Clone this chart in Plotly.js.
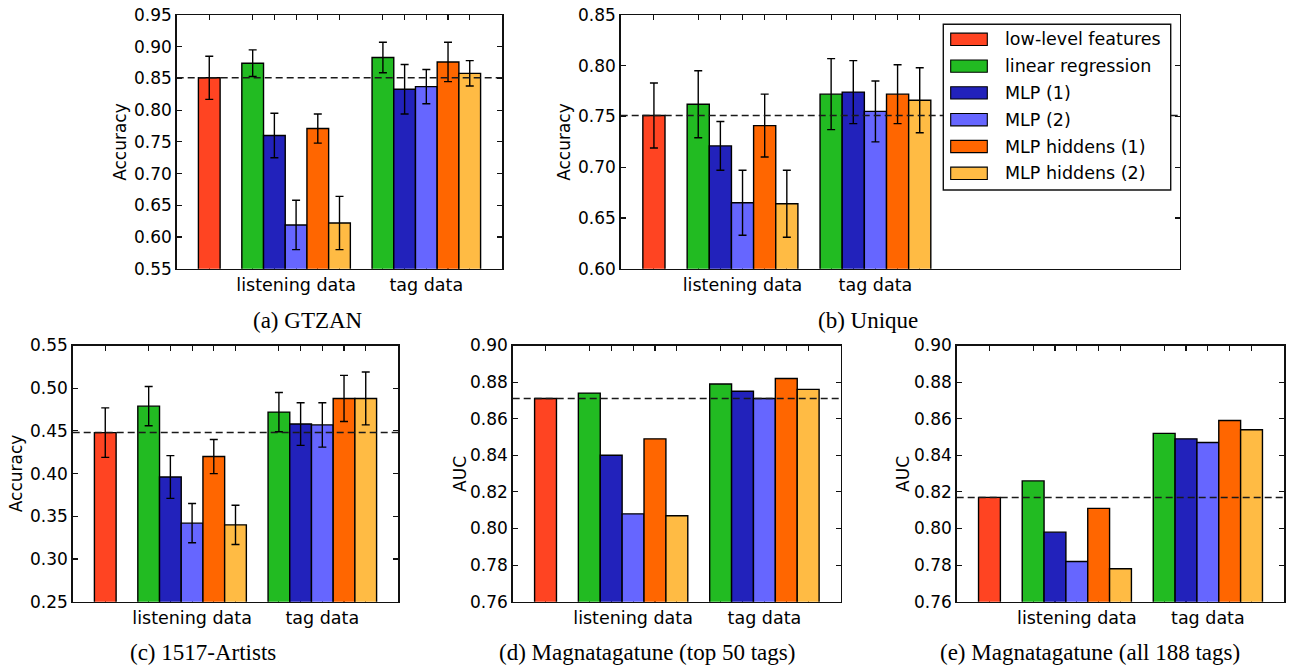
<!DOCTYPE html>
<html><head><meta charset="utf-8">
<script src="https://cdn.plot.ly/plotly-3.0.1.min.js"></script>
<style>html,body{margin:0;padding:0;background:#fff}#chart{width:1293px;height:668px}</style>
</head><body><div id="chart"></div>
<script>
// ---- data ----
const methods = ['low-level features','linear regression','MLP (1)','MLP (2)','MLP hiddens (1)','MLP hiddens (2)'];
const colors = ['#ff4422','#22bb22','#2222bb','#6666ff','#ff6600','#ffbb44'];
const groupLabels = ['listening data','tag data'];

// (a) GTZAN
const gtzanLow = 0.851, gtzanLowErr = 0.034;
const gtzanListen = [0.874, 0.760, 0.619, 0.771, 0.622];
const gtzanListenErr = [0.021, 0.035, 0.039, 0.023, 0.042];
const gtzanTag = [0.883, 0.833, 0.837, 0.876, 0.858];
const gtzanTagErr = [0.024, 0.039, 0.027, 0.031, 0.020];
const gtzanTicks = [0.55, 0.60, 0.65, 0.70, 0.75, 0.80, 0.85, 0.90, 0.95];

// (b) Unique
const uniqueLow = 0.751, uniqueLowErr = 0.032;
const uniqueListen = [0.762, 0.721, 0.665, 0.741, 0.664];
const uniqueListenErr = [0.033, 0.024, 0.032, 0.031, 0.033];
const uniqueTag = [0.772, 0.774, 0.755, 0.772, 0.766];
const uniqueTagErr = [0.035, 0.031, 0.030, 0.029, 0.032];
const uniqueTicks = [0.60, 0.65, 0.70, 0.75, 0.80, 0.85];

// (c) 1517-Artists
const artistsLow = 0.448, artistsLowErr = 0.029;
const artistsListen = [0.479, 0.396, 0.342, 0.420, 0.340];
const artistsListenErr = [0.023, 0.025, 0.023, 0.020, 0.023];
const artistsTag = [0.472, 0.458, 0.457, 0.488, 0.488];
const artistsTagErr = [0.023, 0.025, 0.026, 0.027, 0.031];
const artistsTicks = [0.25, 0.30, 0.35, 0.40, 0.45, 0.50, 0.55];

// (d) Magnatagatune (top 50 tags)
const mag50Low = 0.871;
const mag50Listen = [0.874, 0.840, 0.808, 0.849, 0.807];
const mag50Tag = [0.879, 0.875, 0.871, 0.882, 0.876];

// (e) Magnatagatune (all 188 tags)
const mag188Low = 0.817;
const mag188Listen = [0.826, 0.798, 0.782, 0.811, 0.778];
const mag188Tag = [0.852, 0.849, 0.847, 0.859, 0.854];
const aucTicks = [0.76, 0.78, 0.80, 0.82, 0.84, 0.86, 0.88, 0.90];

// ---- layout helpers ----
const W = 1293, H = 668;
const px = v => v / W, py = v => 1 - v / H;
const FONT = 'DejaVu Sans, sans-serif';
const SERIF = 'Liberation Serif, Times New Roman, serif';

const panels = [
  {caption:'(a) GTZAN', ylabel:'Accuracy', low:gtzanLow, lowErr:gtzanLowErr, listen:gtzanListen, listenErr:gtzanListenErr,
   tag:gtzanTag, tagErr:gtzanTagErr, yticks:gtzanTicks, box:[176.7,502.3,15,268.7], xr:[-1.5,13.5], capX:307.8, capY:320, labX:120},
  {caption:'(b) Unique', ylabel:'Accuracy', low:uniqueLow, lowErr:uniqueLowErr, listen:uniqueListen, listenErr:uniqueListenErr,
   tag:uniqueTag, tagErr:uniqueTagErr, yticks:uniqueTicks, box:[620.7,1180,15,268.7], xr:[-1.5,23.75], capX:868, capY:320, labX:564},
  {caption:'(c) 1517-Artists', ylabel:'Accuracy', low:artistsLow, lowErr:artistsLowErr, listen:artistsListen, listenErr:artistsListenErr,
   tag:artistsTag, tagErr:artistsTagErr, yticks:artistsTicks, box:[72.7,398.3,345.5,601.7], xr:[-1.5,13.5], capX:203.3, capY:652.5, labX:15.7},
  {caption:'(d) Magnatagatune (top 50 tags)', ylabel:'AUC', low:mag50Low, listen:mag50Listen, tag:mag50Tag,
   yticks:aucTicks, box:[512.7,841,345.5,601.7], xr:[-1.5,13.5], capX:646.7, capY:652.5, labX:459.3},
  {caption:'(e) Magnatagatune (all 188 tags)', ylabel:'AUC', low:mag188Low, listen:mag188Listen, tag:mag188Tag,
   yticks:aucTicks, box:[956.7,1284.3,345.5,601.7], xr:[-1.5,13.5], capX:1090, capY:652.5, labX:902.3}
];

const traces = [];
const layout = {
  width: W, height: H, margin:{l:0,r:0,t:0,b:0}, paper_bgcolor:'#fff', plot_bgcolor:'#fff',
  showlegend:false, barmode:'overlay', font:{family:FONT, size:17, color:'#000'},
  shapes:[], annotations:[]
};

const errStyle = (arr) => arr ? {type:'data', array:arr, visible:true, color:'#000', thickness:1.4, width:4} : {visible:false};
const barLine = {color:'#000', width:1.4};

panels.forEach((p, i) => {
  const s = i === 0 ? '' : String(i + 1);
  const xa = 'x' + s, ya = 'y' + s;
  // positions: low-level bar at 0, then listening group, then tag group
  const listenPos = p.listen.map((_, k) => 2 + k);
  const tagPos = p.tag.map((_, k) => 2 + p.listen.length + 1 + k);
  traces.push({type:'bar', x:[0], y:[p.low], width:1, xaxis:xa, yaxis:ya, name:methods[0],
    marker:{color:colors[0], line:barLine}, error_y:errStyle(p.lowErr !== undefined ? [p.lowErr] : null), hoverinfo:'skip'});
  for (let k = 0; k < p.listen.length; k++) {
    traces.push({type:'bar', x:[listenPos[k], tagPos[k]], y:[p.listen[k], p.tag[k]], width:1, xaxis:xa, yaxis:ya,
      name:methods[k + 1], marker:{color:colors[k + 1], line:barLine},
      error_y:errStyle(p.listenErr ? [p.listenErr[k], p.tagErr[k]] : null), hoverinfo:'skip'});
  }
  const tickvals = [0].concat(listenPos, tagPos);
  const mid = Math.floor(p.listen.length / 2);
  const ticktext = tickvals.map(v => v === listenPos[mid] ? groupLabels[0] : (v === tagPos[mid] ? groupLabels[1] : ''));
  const common = {showline:true, linecolor:'#111', linewidth:1.4, mirror:'allticks', ticks:'inside', ticklen:5,
    tickwidth:1.1, tickcolor:'#111', showgrid:false, zeroline:false, fixedrange:true, layer:'below traces',
    tickfont:{family:FONT, size:17, color:'#000'}};
  layout['xaxis' + s] = Object.assign({}, common, {domain:[px(p.box[0]), px(p.box[1])], range:p.xr, anchor:ya,
    tickmode:'array', tickvals:tickvals, ticktext:ticktext, tickfont:{family:FONT, size:17.5, color:'#000'}});
  layout['yaxis' + s] = Object.assign({}, common, {domain:[py(p.box[3]), py(p.box[2])],
    range:[p.yticks[0], p.yticks[p.yticks.length - 1]], anchor:xa, tickmode:'array', tickvals:p.yticks,
    ticktext:p.yticks.map(v => v.toFixed(2))});
  // baseline dashed line (low-level features level)
  layout.shapes.push({type:'line', xref:xa + ' domain', yref:ya, x0:0, x1:1, y0:p.low, y1:p.low, layer:'above',
    line:{color:'#1a1a1a', width:1.5, dash:'7px,4px'}});
  layout.annotations.push({xref:'paper', yref:'paper', x:px(p.capX), y:py(p.capY), xanchor:'center', yanchor:'middle',
    text:p.caption, showarrow:false, font:{family:SERIF, size:23, color:'#000'}});
  layout.annotations.push({xref:'paper', yref:'paper', x:px(p.labX), y:py((p.box[2] + p.box[3]) / 2), xanchor:'center',
    yanchor:'middle', textangle:-90, text:p.ylabel, showarrow:false, font:{family:FONT, size:17, color:'#000'}});
});

// legend (drawn inside panel b)
const lg = {x0:943.3, x1:1170.7, y0:24.3, y1:190, row0:39.3, step:26.8, sw0:950.7, sw1:987.3, swh:12.3, tx:1002.7};
layout.shapes.push({type:'rect', xref:'paper', yref:'paper', x0:px(lg.x0), x1:px(lg.x1), y0:py(lg.y1), y1:py(lg.y0),
  fillcolor:'#fff', line:{color:'#111', width:1.4}, layer:'above'});
methods.forEach((m, k) => {
  const yc = lg.row0 + k * lg.step;
  layout.shapes.push({type:'rect', xref:'paper', yref:'paper', x0:px(lg.sw0), x1:px(lg.sw1),
    y0:py(yc + lg.swh / 2), y1:py(yc - lg.swh / 2), fillcolor:colors[k], line:{color:'#000', width:1.1}, layer:'above'});
  layout.annotations.push({xref:'paper', yref:'paper', x:px(lg.tx), y:py(yc), xanchor:'left', yanchor:'middle',
    text:m, showarrow:false, font:{family:FONT, size:17.5, color:'#000'}});
});

Plotly.newPlot('chart', traces, layout, {displayModeBar:false, staticPlot:true});
</script>
</body></html>
